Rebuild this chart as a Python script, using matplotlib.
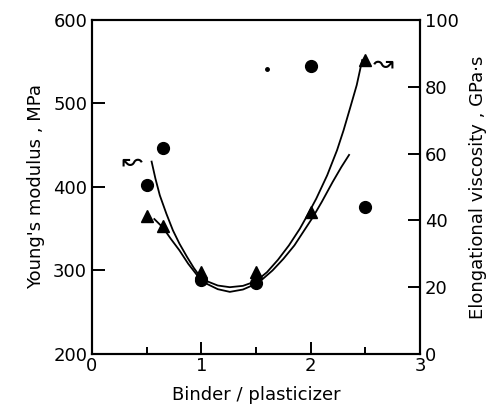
import matplotlib
matplotlib.use("Agg")
import matplotlib.pyplot as plt
import matplotlib.ticker as mticker

# Young's modulus (circles, left axis)
ratio_e = [0.5, 0.65, 1.0, 1.5, 2.0, 2.5]
modulus = [402, 447, 289, 285, 545, 376]

# elongational viscosity (triangles, right axis)
ratio_v = [0.5, 0.65, 1.0, 1.5, 2.0, 2.5]
viscosity = [41.3, 38.3, 24.5, 24.5, 42.5, 88]

# hand-drawn curves (right-axis units)
curve_a_x = [0.545, 0.58, 0.62, 0.68, 0.74, 0.80, 0.87, 0.93, 0.97, 1.05, 1.15, 1.26,
             1.38, 1.5, 1.6, 1.7, 1.8, 1.9, 1.96, 2.05, 2.15, 2.24, 2.3, 2.36, 2.42, 2.47]
curve_a_y = [57.6, 52.5, 47.5, 42, 37, 33, 29, 25.8, 24, 21.8, 20.5, 20,
             20.4, 21.8, 24.5, 28.2, 32.5, 37.5, 41, 46.5, 53.5, 61, 67, 73.7, 80.5, 88]
curve_b_x = [0.57, 0.65, 0.72, 0.8, 0.88, 0.97, 1.05, 1.15, 1.26, 1.38, 1.52,
             1.65, 1.75, 1.85, 1.95, 2.02, 2.1, 2.2, 2.28, 2.35]
curve_b_y = [40.4, 37.8, 34.5, 31, 27, 23.2, 21, 19.4, 18.6, 19.3, 21.3,
             25, 28.5, 32.5, 37.5, 41, 45.5, 51.5, 56, 59.6]

plt.rcParams["font.family"] = ["DejaVu Sans"]

fig = plt.figure(figsize=(4.88, 4.12), dpi=100)
ax = fig.add_axes([0.1885, 0.1408, 0.6725, 0.8107])
ax2 = ax.twinx()

ax.set_xlim(0, 3)
ax.set_ylim(200, 600)
ax2.set_ylim(0, 100)

ax.plot(ratio_e, modulus, "o", color="black", markersize=8.5, zorder=3)
ax2.plot(ratio_v, viscosity, "^", color="black", markersize=9, zorder=3)
ax2.plot(curve_a_x, curve_a_y, color="black", linewidth=1.3)
ax2.plot(curve_b_x, curve_b_y, color="black", linewidth=1.3)

# arrows telling which axis each symbol belongs to
ax2.text(0.365, 57.5, "\u219c", fontsize=18, ha="center", va="center")
ax2.text(2.66, 87, "\u219d", fontsize=18, ha="center", va="center")
ax.plot([1.6], [541], marker="o", color="black", markersize=2.5)

ax.xaxis.set_major_locator(mticker.MultipleLocator(1))
ax.xaxis.set_minor_locator(mticker.MultipleLocator(0.5))
ax.yaxis.set_major_locator(mticker.MultipleLocator(100))
ax2.yaxis.set_major_locator(mticker.MultipleLocator(20))

ax.tick_params(axis="both", which="major", direction="in", length=9, width=1.4, labelsize=13)
ax.tick_params(axis="x", which="minor", direction="in", length=5, width=1.4)
ax2.tick_params(axis="y", direction="in", length=9, width=1.4, labelsize=13)
ax.tick_params(axis="x", pad=2)

for sp in list(ax.spines.values()) + list(ax2.spines.values()):
    sp.set_linewidth(1.5)

ax.set_xlabel("Binder / plasticizer", fontsize=13, labelpad=8)
ax.set_ylabel("Young's modulus , MPa", fontsize=13, labelpad=6)
ax2.set_ylabel("Elongational viscosity , GPa\u00b7s", fontsize=13, labelpad=7)

fig.savefig("out.png", dpi=100)
